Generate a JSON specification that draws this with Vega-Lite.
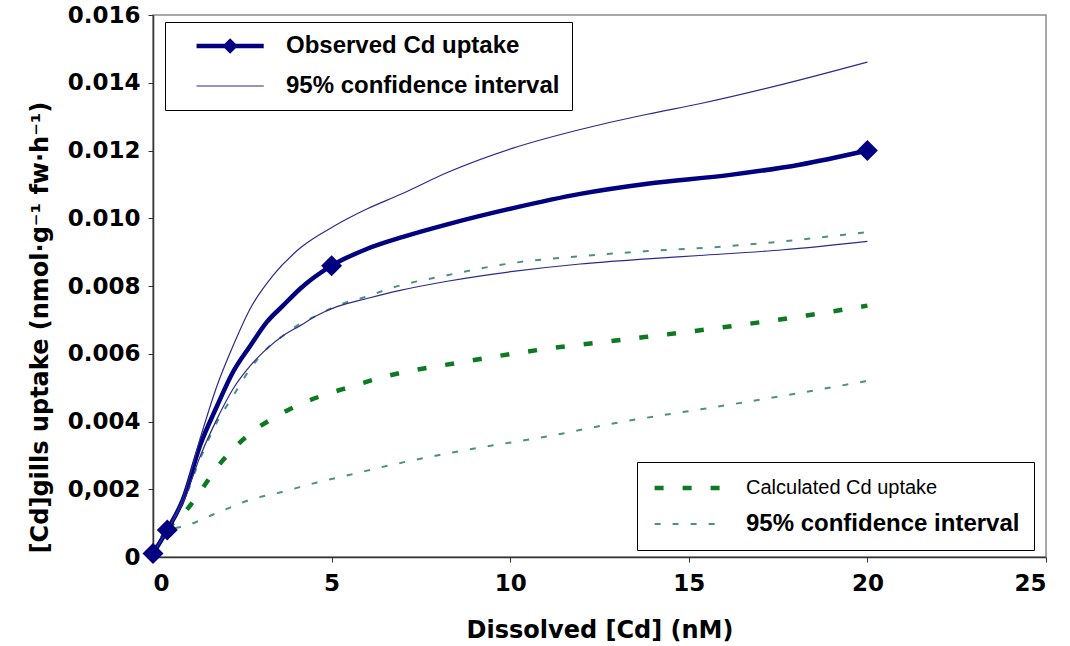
{
  "$schema": "https://vega.github.io/schema/vega-lite/v6.json",
  "width": 893,
  "height": 542,
  "autosize": {"type": "none"},
  "padding": {"left": 153, "top": 15, "right": 24, "bottom": 89},
  "background": "white",
  "config": {
    "view": {"stroke": "#8c8c8c", "strokeWidth": 1.5},
    "axis": {
      "grid": false,
      "domainColor": "#333333",
      "domainWidth": 1.5,
      "tickColor": "#333333",
      "tickSize": 5,
      "labelFont": "DejaVu Sans",
      "labelFontWeight": "bold",
      "labelFontSize": 23,
      "labelColor": "black",
      "titleFont": "DejaVu Sans",
      "titleFontWeight": "bold",
      "titleFontSize": 24,
      "titleColor": "black"
    }
  },
  "datasets": {
    "observed": [
      {"x": 0, "y": 0.0001, "series": "Observed Cd uptake", "curve": "obs"},
      {"x": 0.4, "y": 0.0008, "series": "Observed Cd uptake", "curve": "obs"},
      {"x": 0.84, "y": 0.0017, "series": "Observed Cd uptake", "curve": "obs"},
      {"x": 1.32, "y": 0.0033, "series": "Observed Cd uptake", "curve": "obs"},
      {"x": 1.79, "y": 0.00445, "series": "Observed Cd uptake", "curve": "obs"},
      {"x": 2.24, "y": 0.00546, "series": "Observed Cd uptake", "curve": "obs"},
      {"x": 2.72, "y": 0.00623, "series": "Observed Cd uptake", "curve": "obs"},
      {"x": 3.19, "y": 0.00694, "series": "Observed Cd uptake", "curve": "obs"},
      {"x": 3.64, "y": 0.00742, "series": "Observed Cd uptake", "curve": "obs"},
      {"x": 4.12, "y": 0.00792, "series": "Observed Cd uptake", "curve": "obs"},
      {"x": 5, "y": 0.0086, "series": "Observed Cd uptake", "curve": "obs"},
      {"x": 6, "y": 0.0091, "series": "Observed Cd uptake", "curve": "obs"},
      {"x": 7, "y": 0.00945, "series": "Observed Cd uptake", "curve": "obs"},
      {"x": 8.24, "y": 0.00982, "series": "Observed Cd uptake", "curve": "obs"},
      {"x": 10.08, "y": 0.0103, "series": "Observed Cd uptake", "curve": "obs"},
      {"x": 11.96, "y": 0.01072, "series": "Observed Cd uptake", "curve": "obs"},
      {"x": 13.84, "y": 0.01102, "series": "Observed Cd uptake", "curve": "obs"},
      {"x": 16.16, "y": 0.01128, "series": "Observed Cd uptake", "curve": "obs"},
      {"x": 18.1, "y": 0.01158, "series": "Observed Cd uptake", "curve": "obs"},
      {"x": 20, "y": 0.012, "series": "Observed Cd uptake", "curve": "obs"},

      {"x": 0, "y": 0.0001, "series": "95% confidence interval", "curve": "upper"},
      {"x": 0.4, "y": 0.0008, "series": "95% confidence interval", "curve": "upper"},
      {"x": 0.84, "y": 0.00175, "series": "95% confidence interval", "curve": "upper"},
      {"x": 1.32, "y": 0.0035, "series": "95% confidence interval", "curve": "upper"},
      {"x": 1.79, "y": 0.00505, "series": "95% confidence interval", "curve": "upper"},
      {"x": 2.24, "y": 0.00623, "series": "95% confidence interval", "curve": "upper"},
      {"x": 2.72, "y": 0.00733, "series": "95% confidence interval", "curve": "upper"},
      {"x": 3.36, "y": 0.00831, "series": "95% confidence interval", "curve": "upper"},
      {"x": 4.12, "y": 0.00912, "series": "95% confidence interval", "curve": "upper"},
      {"x": 5.04, "y": 0.00975, "series": "95% confidence interval", "curve": "upper"},
      {"x": 6, "y": 0.01028, "series": "95% confidence interval", "curve": "upper"},
      {"x": 6.92, "y": 0.0107, "series": "95% confidence interval", "curve": "upper"},
      {"x": 8.24, "y": 0.01135, "series": "95% confidence interval", "curve": "upper"},
      {"x": 10.08, "y": 0.01207, "series": "95% confidence interval", "curve": "upper"},
      {"x": 11.96, "y": 0.01262, "series": "95% confidence interval", "curve": "upper"},
      {"x": 13.84, "y": 0.01307, "series": "95% confidence interval", "curve": "upper"},
      {"x": 15.3, "y": 0.01338, "series": "95% confidence interval", "curve": "upper"},
      {"x": 17.65, "y": 0.01396, "series": "95% confidence interval", "curve": "upper"},
      {"x": 20, "y": 0.01461, "series": "95% confidence interval", "curve": "upper"},

      {"x": 0, "y": 0.0001, "series": "95% confidence interval", "curve": "lower"},
      {"x": 0.4, "y": 0.0008, "series": "95% confidence interval", "curve": "lower"},
      {"x": 0.84, "y": 0.0016, "series": "95% confidence interval", "curve": "lower"},
      {"x": 1.32, "y": 0.00297, "series": "95% confidence interval", "curve": "lower"},
      {"x": 1.79, "y": 0.00407, "series": "95% confidence interval", "curve": "lower"},
      {"x": 2.24, "y": 0.00496, "series": "95% confidence interval", "curve": "lower"},
      {"x": 2.72, "y": 0.00564, "series": "95% confidence interval", "curve": "lower"},
      {"x": 3.19, "y": 0.00615, "series": "95% confidence interval", "curve": "lower"},
      {"x": 3.64, "y": 0.00653, "series": "95% confidence interval", "curve": "lower"},
      {"x": 4.12, "y": 0.00683, "series": "95% confidence interval", "curve": "lower"},
      {"x": 4.59, "y": 0.00713, "series": "95% confidence interval", "curve": "lower"},
      {"x": 5.15, "y": 0.00739, "series": "95% confidence interval", "curve": "lower"},
      {"x": 5.99, "y": 0.00763, "series": "95% confidence interval", "curve": "lower"},
      {"x": 6.92, "y": 0.00787, "series": "95% confidence interval", "curve": "lower"},
      {"x": 8.24, "y": 0.00814, "series": "95% confidence interval", "curve": "lower"},
      {"x": 10.08, "y": 0.00843, "series": "95% confidence interval", "curve": "lower"},
      {"x": 11.96, "y": 0.00865, "series": "95% confidence interval", "curve": "lower"},
      {"x": 13.84, "y": 0.0088, "series": "95% confidence interval", "curve": "lower"},
      {"x": 15.3, "y": 0.0089, "series": "95% confidence interval", "curve": "lower"},
      {"x": 17.65, "y": 0.00907, "series": "95% confidence interval", "curve": "lower"},
      {"x": 20, "y": 0.00932, "series": "95% confidence interval", "curve": "lower"}
    ],
    "measured": [
      {"x": 0, "y": 0.0001},
      {"x": 0.4, "y": 0.0008},
      {"x": 5, "y": 0.0086},
      {"x": 20, "y": 0.012}
    ],
    "calculated": [
      {"x": 0, "y": 0.0001, "series": "Calculated Cd uptake", "curve": "calc"},
      {"x": 0.4, "y": 0.0008, "series": "Calculated Cd uptake", "curve": "calc"},
      {"x": 0.95, "y": 0.0014, "series": "Calculated Cd uptake", "curve": "calc"},
      {"x": 1.4, "y": 0.00205, "series": "Calculated Cd uptake", "curve": "calc"},
      {"x": 1.79, "y": 0.00264, "series": "Calculated Cd uptake", "curve": "calc"},
      {"x": 2.24, "y": 0.00318, "series": "Calculated Cd uptake", "curve": "calc"},
      {"x": 2.8, "y": 0.00371, "series": "Calculated Cd uptake", "curve": "calc"},
      {"x": 3.47, "y": 0.00416, "series": "Calculated Cd uptake", "curve": "calc"},
      {"x": 4.12, "y": 0.00451, "series": "Calculated Cd uptake", "curve": "calc"},
      {"x": 4.87, "y": 0.00481, "series": "Calculated Cd uptake", "curve": "calc"},
      {"x": 5.52, "y": 0.00502, "series": "Calculated Cd uptake", "curve": "calc"},
      {"x": 6.36, "y": 0.00529, "series": "Calculated Cd uptake", "curve": "calc"},
      {"x": 8.68, "y": 0.00576, "series": "Calculated Cd uptake", "curve": "calc"},
      {"x": 11.04, "y": 0.00615, "series": "Calculated Cd uptake", "curve": "calc"},
      {"x": 13.36, "y": 0.00644, "series": "Calculated Cd uptake", "curve": "calc"},
      {"x": 15.88, "y": 0.00677, "series": "Calculated Cd uptake", "curve": "calc"},
      {"x": 18.3, "y": 0.00713, "series": "Calculated Cd uptake", "curve": "calc"},
      {"x": 20, "y": 0.00742, "series": "Calculated Cd uptake", "curve": "calc"},

      {"x": 0, "y": 0.0001, "series": "95% confidence interval", "curve": "upper"},
      {"x": 0.4, "y": 0.0008, "series": "95% confidence interval", "curve": "upper"},
      {"x": 0.84, "y": 0.0016, "series": "95% confidence interval", "curve": "upper"},
      {"x": 1.32, "y": 0.0029, "series": "95% confidence interval", "curve": "upper"},
      {"x": 1.79, "y": 0.00398, "series": "95% confidence interval", "curve": "upper"},
      {"x": 2.24, "y": 0.00475, "series": "95% confidence interval", "curve": "upper"},
      {"x": 2.72, "y": 0.00555, "series": "95% confidence interval", "curve": "upper"},
      {"x": 3.19, "y": 0.00615, "series": "95% confidence interval", "curve": "upper"},
      {"x": 3.64, "y": 0.00653, "series": "95% confidence interval", "curve": "upper"},
      {"x": 4.12, "y": 0.00689, "series": "95% confidence interval", "curve": "upper"},
      {"x": 4.59, "y": 0.00713, "series": "95% confidence interval", "curve": "upper"},
      {"x": 5.15, "y": 0.00742, "series": "95% confidence interval", "curve": "upper"},
      {"x": 5.99, "y": 0.00769, "series": "95% confidence interval", "curve": "upper"},
      {"x": 6.64, "y": 0.00793, "series": "95% confidence interval", "curve": "upper"},
      {"x": 8.24, "y": 0.00832, "series": "95% confidence interval", "curve": "upper"},
      {"x": 10.08, "y": 0.00868, "series": "95% confidence interval", "curve": "upper"},
      {"x": 11.96, "y": 0.00888, "series": "95% confidence interval", "curve": "upper"},
      {"x": 13.84, "y": 0.00903, "series": "95% confidence interval", "curve": "upper"},
      {"x": 16.16, "y": 0.00918, "series": "95% confidence interval", "curve": "upper"},
      {"x": 17.65, "y": 0.00932, "series": "95% confidence interval", "curve": "upper"},
      {"x": 20, "y": 0.00959, "series": "95% confidence interval", "curve": "upper"},

      {"x": 0, "y": 0.0001, "series": "95% confidence interval", "curve": "lower"},
      {"x": 0.4, "y": 0.0008, "series": "95% confidence interval", "curve": "lower"},
      {"x": 0.85, "y": 0.0009, "series": "95% confidence interval", "curve": "lower"},
      {"x": 1.79, "y": 0.0013, "series": "95% confidence interval", "curve": "lower"},
      {"x": 2.72, "y": 0.00169, "series": "95% confidence interval", "curve": "lower"},
      {"x": 3.64, "y": 0.00193, "series": "95% confidence interval", "curve": "lower"},
      {"x": 4.59, "y": 0.0022, "series": "95% confidence interval", "curve": "lower"},
      {"x": 5.52, "y": 0.00243, "series": "95% confidence interval", "curve": "lower"},
      {"x": 6.72, "y": 0.00273, "series": "95% confidence interval", "curve": "lower"},
      {"x": 8.88, "y": 0.00318, "series": "95% confidence interval", "curve": "lower"},
      {"x": 11.04, "y": 0.00356, "series": "95% confidence interval", "curve": "lower"},
      {"x": 13.08, "y": 0.00398, "series": "95% confidence interval", "curve": "lower"},
      {"x": 15.69, "y": 0.00442, "series": "95% confidence interval", "curve": "lower"},
      {"x": 17.76, "y": 0.00478, "series": "95% confidence interval", "curve": "lower"},
      {"x": 20, "y": 0.0052, "series": "95% confidence interval", "curve": "lower"}
    ]
  },
  "layer": [
    {
      "data": {"name": "calculated"},
      "mark": {"type": "line", "interpolate": "monotone"},
      "encoding": {
        "x": {
          "field": "x",
          "type": "quantitative",
          "scale": {"domain": [0, 25], "nice": false},
          "axis": {
            "values": [0, 5, 10, 15, 20, 25],
            "title": "Dissolved [Cd] (nM)",
            "labelPadding": 10,
            "titleY": 73,
            "titleBaseline": "middle"
          }
        },
        "y": {
          "field": "y",
          "type": "quantitative",
          "scale": {"domain": [0, 0.016], "nice": false},
          "axis": {
            "values": [0, 0.002, 0.004, 0.006, 0.008, 0.01, 0.012, 0.014, 0.016],
            "labelExpr": "datum.value === 0 ? '0' : abs(datum.value - 0.002) < 1e-9 ? '0,002' : format(datum.value, '.3f')",
            "labelPadding": 8,
            "title": "[Cd]gills uptake (nmol·g⁻¹ fw·h⁻¹)",
            "titleFontSize": 24,
            "titleX": -113,
            "titleY": 312,
            "titleBaseline": "middle"
          }
        },
        "detail": {"field": "curve"},
        "color": {
          "field": "series",
          "type": "nominal",
          "scale": {"domain": ["Calculated Cd uptake", "95% confidence interval"], "range": ["#0b7a22", "#4d917f"]},
          "legend": {
            "title": null,
            "orient": "none",
            "legendX": 484,
            "legendY": 447,
            "padding": 14,
            "strokeColor": "black",
            "fillColor": "white",
            "symbolType": "M-1,0H7",
            "symbolSize": 282,
            "labelOffset": 71,
            "rowPadding": 14,
            "labelFont": "Liberation Sans",
            "labelFontSize": 24,
            "labelFontWeight": "bold",
            "labelColor": "black",
            "labelLimit": 400,
            "encode": {
              "labels": {
                "update": {
                  "fontWeight": {"signal": "datum.value === 'Calculated Cd uptake' ? 'normal' : 'bold'"},
                  "fontSize": {"signal": "datum.value === 'Calculated Cd uptake' ? 20 : 24"}
                }
              }
            }
          }
        },
        "strokeWidth": {
          "field": "series",
          "type": "nominal",
          "scale": {"domain": ["Calculated Cd uptake", "95% confidence interval"], "range": [4.5, 2]}
        },
        "strokeDash": {
          "field": "series",
          "type": "nominal",
          "scale": {"domain": ["Calculated Cd uptake", "95% confidence interval"], "range": [[9, 19], [6, 12]]}
        }
      }
    },
    {
      "data": {"name": "observed"},
      "mark": {"type": "line", "interpolate": "monotone"},
      "encoding": {
        "x": {"field": "x", "type": "quantitative"},
        "y": {"field": "y", "type": "quantitative"},
        "detail": {"field": "curve"},
        "color": {
          "field": "series",
          "type": "nominal",
          "scale": {"domain": ["Observed Cd uptake", "95% confidence interval"], "range": ["#000080", "#2a2a90"]},
          "legend": {
            "title": null,
            "orient": "none",
            "legendX": 12,
            "legendY": 7,
            "padding": 12,
            "strokeColor": "black",
            "fillColor": "white",
            "symbolType": "M0.9,0H8.9",
            "symbolSize": 282,
            "labelOffset": 85,
            "rowPadding": 14,
            "labelFont": "Liberation Sans",
            "labelFontSize": 24,
            "labelFontWeight": "bold",
            "labelColor": "black",
            "labelLimit": 400,
            "encode": {
              "symbols": {
                "update": {
                  "shape": {"signal": "datum.value === 'Observed Cd uptake' ? 'M0.9,0H8.9M4.35,0L4.9,-0.55L5.45,0L4.9,0.55Z' : 'M0.9,0H8.9'"},
                  "fill": {"value": "#000080"}
                }
              }
            }
          }
        },
        "strokeWidth": {
          "field": "series",
          "type": "nominal",
          "scale": {"domain": ["Observed Cd uptake", "95% confidence interval"], "range": [4.5, 1.2]}
        }
      }
    },
    {
      "data": {"name": "measured"},
      "mark": {"type": "point", "shape": "diamond", "filled": true, "opacity": 1, "color": "#000080", "size": 440},
      "encoding": {
        "x": {"field": "x", "type": "quantitative"},
        "y": {"field": "y", "type": "quantitative"}
      }
    }
  ],
  "resolve": {"scale": {"color": "independent", "strokeWidth": "independent", "strokeDash": "independent"}}
}
